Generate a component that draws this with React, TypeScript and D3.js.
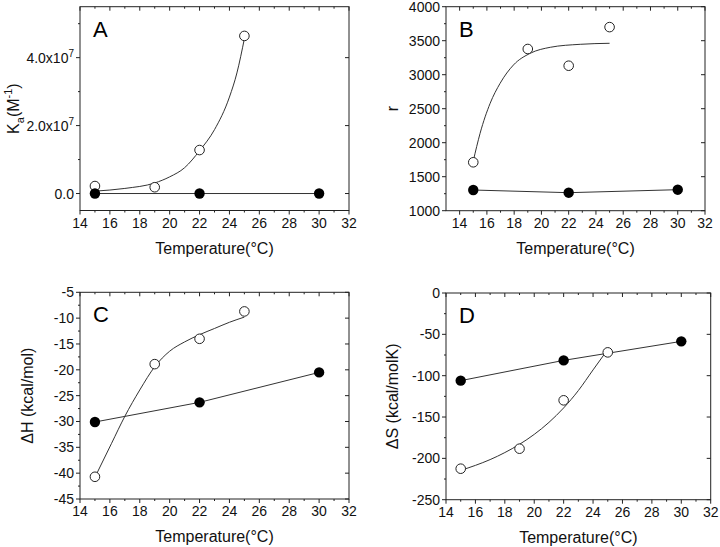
import React from "react";
import * as d3 from "d3";

// ---------- data ----------
const temps = [15, 19, 22, 25];
const tempsFilled = [15, 22, 30];

const kaOpen = [2.2e6, 1.85e6, 1.28e7, 4.64e7];
const kaFilled = [0, 0, 0];
const kaFitT = [15, 17, 19, 20, 21, 22, 23, 24, 24.5, 25];
const kaFitV = [0.7e6, 1.5e6, 3.1e6, 4.9e6, 7.6e6, 12.6e6, 18.8e6, 28.4e6, 35.5e6, 45.6e6];

const rOpen = [1712, 3378, 3132, 3700];
const rFilled = [1304, 1265, 1309];
const rFitT = [15, 15.5, 16.24, 16.97, 17.95, 19.18, 20.65, 22.85, 25];
const rFitV = [1730, 2138, 2580, 2874, 3143, 3315, 3403, 3447, 3462];

const hOpen = [-40.7, -18.9, -14.0, -8.7];
const hFilled = [-30.1, -26.3, -20.5];
const hFitT = [15.1, 16.1, 17, 18, 19, 20, 21, 22, 23, 24, 25];
const hFitV = [-40.2, -34.3, -29.0, -23.9, -19.4, -16.4, -14.6, -13.2, -12.0, -10.8, -9.8];

const sOpen = [-212.5, -188.3, -129.8, -71.8];
const sFilled = [-106, -81.5, -58.5];
const sFitT = [15, 16, 17, 18, 19, 20, 21, 22, 23, 24, 24.85];
const sFitV = [-214.5, -208.5, -201.5, -193, -183, -171, -156.5, -139, -118, -93, -72];

const xTicks = [14, 16, 18, 20, 22, 24, 26, 28, 30, 32];
const xMinor = [15, 17, 19, 21, 23, 25, 27, 29, 31];

const FONT = "'Liberation Sans', Arial, Helvetica, sans-serif";
const AX = "#222";

type PanelProps = {
  letter: string;
  x0: number; x1: number; y0: number; y1: number;
  xDomain: [number, number];
  yDomain: [number, number];
  yTicks: number[];
  yMinor: number[];
  yFmt: (v: number) => React.ReactNode;
  yTitle: React.ReactNode;
  yTitleX: number;
  open: number[];
  filled: number[];
  fitT: number[];
  fitV: number[];
};

function Panel(p: PanelProps) {
  const x = d3.scaleLinear().domain(p.xDomain).range([p.x0, p.x1]);
  const y = d3.scaleLinear().domain(p.yDomain).range([p.y1, p.y0]);
  const line = d3.line<[number, number]>().x((d) => x(d[0])).y((d) => y(d[1]));
  const smooth = d3
    .line<[number, number]>()
    .x((d) => x(d[0]))
    .y((d) => y(d[1]))
    .curve(d3.curveMonotoneX);
  const fitPts: [number, number][] = p.fitT.map((t, i) => [t, p.fitV[i]]);
  const filledPts: [number, number][] = tempsFilled.map((t, i) => [t, p.filled[i]]);
  const openPts: [number, number][] = temps.map((t, i) => [t, p.open[i]]);
  const xt = xTicks.filter((v) => v >= p.xDomain[0]);
  const xm = xMinor.filter((v) => v >= p.xDomain[0]);
  const midX = (p.x0 + p.x1) / 2;
  const midY = (p.y0 + p.y1) / 2;
  return (
    <g fontFamily={FONT}>
      <rect x={p.x0} y={p.y0} width={p.x1 - p.x0} height={p.y1 - p.y0} fill="none" stroke={AX} strokeWidth={1} />
      {xt.map((v) => (
        <g key={"xt" + v}>
          <line x1={x(v)} x2={x(v)} y1={p.y1} y2={p.y1 + 4} stroke={AX} />
          <line x1={x(v)} x2={x(v)} y1={p.y0} y2={p.y0 + 4} stroke={AX} />
          <text x={x(v)} y={p.y1 + 17} fontSize={14} textAnchor="middle" fill="#111">{v}</text>
        </g>
      ))}
      {xm.map((v) => (
        <g key={"xm" + v}>
          <line x1={x(v)} x2={x(v)} y1={p.y1} y2={p.y1 + 2} stroke={AX} />
          <line x1={x(v)} x2={x(v)} y1={p.y0} y2={p.y0 + 2} stroke={AX} />
        </g>
      ))}
      {p.yTicks.map((v) => (
        <g key={"yt" + v}>
          <line x1={p.x0 - 4} x2={p.x0} y1={y(v)} y2={y(v)} stroke={AX} />
          <line x1={p.x1 - 4} x2={p.x1} y1={y(v)} y2={y(v)} stroke={AX} />
          <text x={p.x0 - 6} y={y(v) + 5} fontSize={14} textAnchor="end" fill="#111">{p.yFmt(v)}</text>
        </g>
      ))}
      {p.yMinor.map((v) => (
        <line key={"ym" + v} x1={p.x0 - 2} x2={p.x0} y1={y(v)} y2={y(v)} stroke={AX} />
      ))}
      <text x={midX} y={p.y1 + 43} fontSize={16} textAnchor="middle" fill="#111">Temperature(°C)</text>
      <text transform={`translate(${p.yTitleX},${midY}) rotate(-90)`} fontSize={16} textAnchor="middle" fill="#111">{p.yTitle}</text>
      <text x={p.x0 + 13} y={p.y0 + 30} fontSize={22} fill="#000">{p.letter}</text>
      <path d={line(filledPts) || ""} fill="none" stroke="#333" strokeWidth={1} />
      <path d={smooth(fitPts) || ""} fill="none" stroke="#333" strokeWidth={1} />
      {openPts.map((d, i) => (
        <circle key={"o" + i} cx={x(d[0])} cy={y(d[1])} r={4.8} fill="#fff" stroke="#222" strokeWidth={1} />
      ))}
      {filledPts.map((d, i) => (
        <circle key={"f" + i} cx={x(d[0])} cy={y(d[1])} r={5.2} fill="#000" />
      ))}
    </g>
  );
}

const kaFmt = (v: number) => {
  if (v === 0) return "0.0";
  const m = (v / 1e7).toFixed(1);
  return (
    <>
      {m}x10<tspan dy={-6} fontSize={10}>7</tspan>
    </>
  );
};

export default function App() {
  return (
    <svg width={720} height={547} style={{ display: "block", position: "absolute", left: 0, top: 0 }}>
      <rect width={720} height={547} fill="#fff" />
      <Panel
        letter="A"
        x0={80} x1={349} y0={6.7} y1={210.5}
        xDomain={[14, 32]} yDomain={[-5e6, 5.5e7]}
        yTicks={[0, 2e7, 4e7]} yMinor={[1e7, 3e7, 5e7]}
        yFmt={kaFmt}
        yTitle={<>K<tspan dy={5} fontSize={11}>a</tspan><tspan dy={-5}>(M</tspan><tspan dy={-7} fontSize={11}>-1</tspan><tspan dy={7}>)</tspan></>}
        yTitleX={19}
        open={kaOpen} filled={kaFilled} fitT={kaFitT} fitV={kaFitV}
      />
      <Panel
        letter="B"
        x0={446} x1={705} y0={6.7} y1={210.7}
        xDomain={[13, 32]} yDomain={[1000, 4000]}
        yTicks={[1000, 1500, 2000, 2500, 3000, 3500, 4000]}
        yMinor={[1250, 1750, 2250, 2750, 3250, 3750]}
        yFmt={(v) => String(v)}
        yTitle={<>r</>}
        yTitleX={398}
        open={rOpen} filled={rFilled} fitT={rFitT} fitV={rFitV}
      />
      <Panel
        letter="C"
        x0={80} x1={349} y0={292.3} y1={499}
        xDomain={[14, 32]} yDomain={[-45, -5]}
        yTicks={[-45, -40, -35, -30, -25, -20, -15, -10, -5]}
        yMinor={[-42.5, -37.5, -32.5, -27.5, -22.5, -17.5, -12.5, -7.5]}
        yFmt={(v) => String(v)}
        yTitle={<>ΔH (kcal/mol)</>}
        yTitleX={33}
        open={hOpen} filled={hFilled} fitT={hFitT} fitV={hFitV}
      />
      <Panel
        letter="D"
        x0={446} x1={710.7} y0={293} y1={499.7}
        xDomain={[14, 32]} yDomain={[-250, 0]}
        yTicks={[-250, -200, -150, -100, -50, 0]}
        yMinor={[-225, -175, -125, -75, -25]}
        yFmt={(v) => String(v)}
        yTitle={<>ΔS (kcal/molK)</>}
        yTitleX={398}
        open={sOpen} filled={sFilled} fitT={sFitT} fitV={sFitV}
      />
    </svg>
  );
}
